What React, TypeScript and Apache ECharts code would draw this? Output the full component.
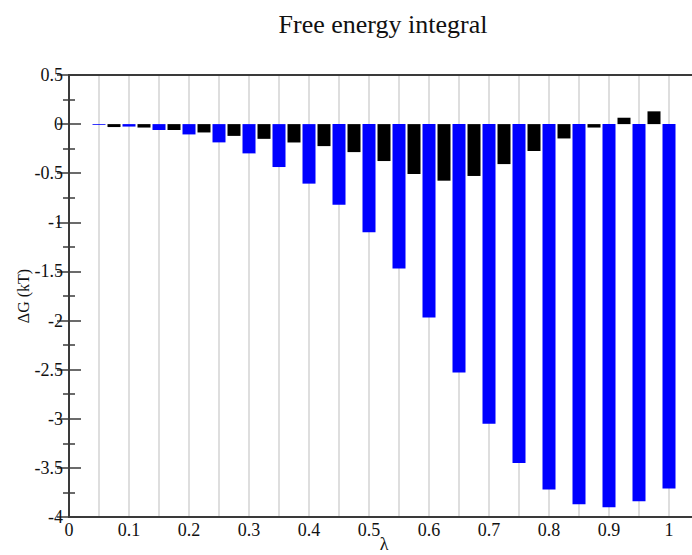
import React, { useEffect, useRef } from "react";
import * as echarts from "echarts";

const blueLambda = [0.05, 0.1, 0.15, 0.2, 0.25, 0.3, 0.35, 0.4, 0.45, 0.5, 0.55, 0.6, 0.65, 0.7, 0.75, 0.8, 0.85, 0.9, 0.95, 1.0];
const blueValues = [-0.008, -0.025, -0.06, -0.105, -0.186, -0.298, -0.437, -0.606, -0.82, -1.1, -1.47, -1.97, -2.53, -3.05, -3.45, -3.72, -3.87, -3.9, -3.84, -3.71];
const blackLambda = [0.075, 0.125, 0.175, 0.225, 0.275, 0.325, 0.375, 0.425, 0.475, 0.525, 0.575, 0.625, 0.675, 0.725, 0.775, 0.825, 0.875, 0.925, 0.975];
const blackValues = [-0.03, -0.035, -0.06, -0.085, -0.12, -0.15, -0.187, -0.224, -0.285, -0.376, -0.508, -0.576, -0.528, -0.407, -0.274, -0.146, -0.035, 0.065, 0.13];
const xTickLabels = ["0", "0.1", "0.2", "0.3", "0.4", "0.5", "0.6", "0.7", "0.8", "0.9", "1"];
const titleText = "Free energy integral";
const xName = "λ";
const yName = "ΔG (kT)";

const FONT = "'Liberation Serif', 'DejaVu Serif', serif";
const AXIS = "#3a3a3a";

export default function App() {
  const ref = useRef<HTMLDivElement>(null);
  useEffect(() => {
    if (!ref.current) return;
    const chart = echarts.init(ref.current, null, { renderer: "svg" });
    const commonY = {
      type: "value",
      min: -4,
      max: 0.5,
      interval: 0.5,
      axisLine: { show: true, lineStyle: { color: AXIS, width: 2 } },
      axisTick: { show: true, inside: true, length: 12, lineStyle: { color: AXIS, width: 1.5 } },
      minorTick: { show: true, splitNumber: 2, length: 6, lineStyle: { color: AXIS, width: 1.5 } },
      splitLine: { show: false },
      minorSplitLine: { show: false },
    };
    chart.setOption({
      animation: false,
      backgroundColor: "#ffffff",
      graphic: [
        {
          type: "text",
          x: 383,
          y: 24,
          style: {
            text: titleText,
            fontFamily: FONT,
            fontSize: 26,
            fill: "#111",
            textAlign: "center",
            textVerticalAlign: "middle",
          },
        },
      ],
      grid: {
        left: 69,
        top: 75,
        bottom: 38,
        right: -7,
        containLabel: false,
        outerBoundsMode: "none",
      },
      xAxis: [
        {
          type: "value",
          min: 0,
          max: 1.05,
          interval: 0.05,
          position: "bottom",
          name: xName,
          nameLocation: "middle",
          nameGap: 18,
          nameMoveOverlap: false,
          nameTextStyle: { fontFamily: FONT, fontSize: 18, color: "#111", verticalAlign: "top" },
          axisLine: { show: true, onZero: false, lineStyle: { color: AXIS, width: 2 } },
          axisTick: { show: false },
          splitLine: { show: true, lineStyle: { color: "#dedede", width: 2 } },
          axisLabel: {
            fontFamily: FONT,
            fontSize: 18,
            color: "#111",
            margin: 4,
            formatter: (v: number) => {
              const r = Math.round(v * 20);
              if (r % 2 !== 0 || r > 20) return "";
              return xTickLabels[r / 2];
            },
          },
        },
        {
          type: "value",
          min: 0,
          max: 1.05,
          interval: 0.05,
          position: "top",
          axisLine: { show: true, onZero: false, lineStyle: { color: AXIS, width: 2 } },
          axisTick: { show: false },
          axisLabel: { show: false },
          splitLine: { show: false },
        },
      ],
      yAxis: [
        {
          ...commonY,
          position: "left",
          name: yName,
          nameLocation: "middle",
          nameGap: 38,
          nameMoveOverlap: false,
          nameRotate: 90,
          nameTextStyle: { fontFamily: FONT, fontSize: 16, color: "#111" },
          axisLabel: {
            fontFamily: FONT,
            fontSize: 18,
            color: "#111",
            margin: 6,
          },
        },
        {
          ...commonY,
          position: "right",
          axisLabel: { show: false },
        },
      ],
      series: [
        {
          type: "bar",
          xAxisIndex: 0,
          yAxisIndex: 0,
          barWidth: 13,
          barGap: "-100%",
          itemStyle: { color: "#0000ff" },
          data: blueLambda.map((x, i) => [x, blueValues[i]]),
        },
        {
          type: "bar",
          xAxisIndex: 0,
          yAxisIndex: 0,
          barWidth: 13,
          barGap: "-100%",
          itemStyle: { color: "#000000" },
          data: blackLambda.map((x, i) => [x, blackValues[i]]),
        },
      ],
    });
    return () => chart.dispose();
  }, []);
  return (
    <div
      ref={ref}
      style={{ position: "fixed", left: 0, top: 0, width: 692, height: 555 }}
    />
  );
}
